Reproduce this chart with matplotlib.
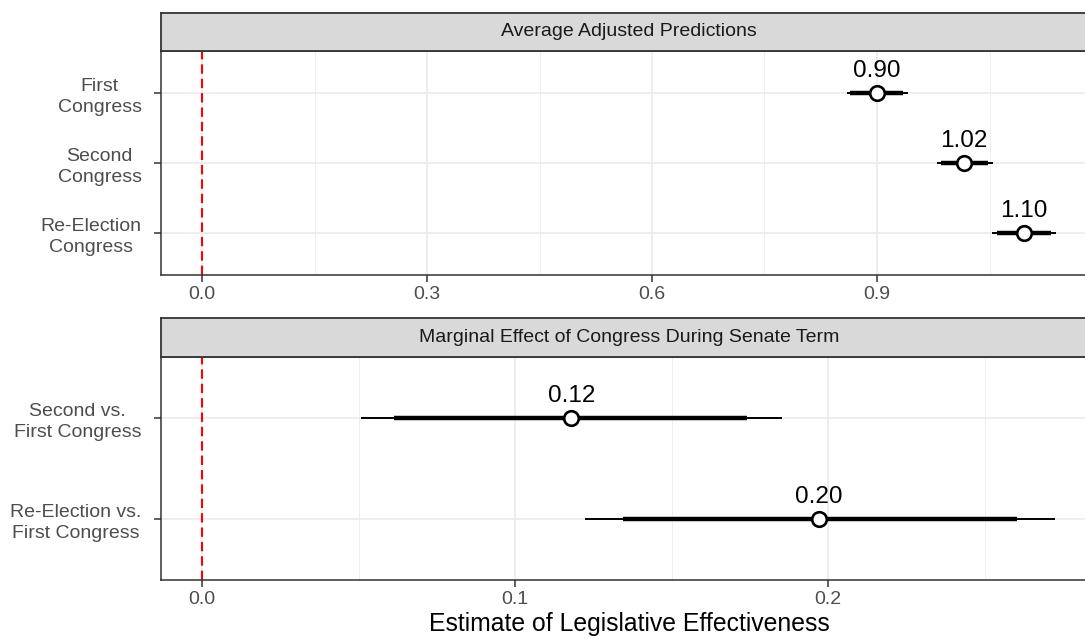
import matplotlib
matplotlib.use("Agg")
import matplotlib.pyplot as plt
from matplotlib.ticker import MultipleLocator

plt.rcParams['font.family'] = ['Liberation Sans', 'DejaVu Sans']

# Average adjusted predictions (point, 66% and 95% intervals)
pred_labels = ["First\nCongress", "Second\nCongress", "Re-Election\nCongress"]
pred_est = [0.900, 1.016, 1.096]
pred_lo66 = [0.864, 0.985, 1.060]
pred_hi66 = [0.934, 1.048, 1.132]
pred_lo95 = [0.860, 0.980, 1.053]
pred_hi95 = [0.941, 1.055, 1.139]

# Marginal effects relative to the first congress
eff_labels = ["Second vs.\nFirst Congress", "Re-Election vs.\nFirst Congress"]
eff_est = [0.118, 0.197]
eff_lo66 = [0.0613, 0.1345]
eff_hi66 = [0.1741, 0.2604]
eff_lo95 = [0.0508, 0.1224]
eff_hi95 = [0.1853, 0.2725]

W, H = 1085, 639
GRID = "#EBEBEB"
DARK = "#333333"


def px_box(left, top, right, bottom):
    return [left / W, (H - bottom) / H, (right - left) / W, (bottom - top) / H]


def add_strip(fig, top, bottom, title):
    sax = fig.add_axes(px_box(161, top, 1097, bottom))
    sax.set_facecolor("#D9D9D9")
    sax.set_xticks([])
    sax.set_yticks([])
    for s in sax.spines.values():
        s.set_color(DARK)
        s.set_linewidth(1.3)
    sax.text(0.5, 0.5, title, transform=sax.transAxes, ha="center", va="center",
             fontsize=14, color="#1A1A1A")


def draw_panel(ax, labels, est, lo66, hi66, lo95, hi95, xlim, major, minor, fmt):
    n = len(labels)
    ys = list(range(1, n + 1))
    ax.set_xlim(*xlim)
    ax.set_ylim(n + 0.6, 0.4)
    ax.xaxis.set_major_locator(MultipleLocator(major))
    ax.xaxis.set_minor_locator(MultipleLocator(minor))
    ax.xaxis.set_major_formatter(plt.FuncFormatter(lambda v, p: format(v, fmt)))
    ax.set_yticks(ys)
    ax.set_yticklabels(labels, multialignment="center", linespacing=1.3)
    ax.grid(True, which="major", color=GRID, lw=1.2, zorder=0)
    ax.grid(True, which="minor", axis="x", color=GRID, lw=0.6, zorder=0)
    ax.set_axisbelow(True)
    ax.tick_params(axis="both", which="major", length=5, width=1.1, color=DARK,
                   labelcolor="#4D4D4D", labelsize=14)
    ax.tick_params(axis="y", pad=9)
    ax.tick_params(axis="x", pad=3)
    ax.tick_params(which="minor", length=0)
    for s in ax.spines.values():
        s.set_color(DARK)
        s.set_linewidth(1.1)

    ax.axvline(0, color="red", ls=(0, (4.5, 2.4)), lw=1.5, zorder=2)
    for y, e, a, b, c, d in zip(ys, est, lo66, hi66, lo95, hi95):
        ax.plot([c, d], [y, y], color="black", lw=1.4, solid_capstyle="butt", zorder=3)
        ax.plot([a, b], [y, y], color="black", lw=3.2, solid_capstyle="butt", zorder=3)
        ax.plot(e, y, "o", ms=10.5, mfc="white", mec="black", mew=1.9, zorder=4)
        ax.annotate(f"{e:.2f}", (e, y), xytext=(0, 11.5), textcoords="offset points",
                    ha="center", va="baseline", fontsize=17.5, color="black")


fig = plt.figure(figsize=(W / 100, H / 100), dpi=100)

ax1 = fig.add_axes(px_box(161, 51, 1097, 275))
draw_panel(ax1, pred_labels, pred_est, pred_lo66, pred_hi66, pred_lo95, pred_hi95,
           ((161 - 202) / 750, (1097 - 202) / 750), 0.3, 0.15, ".1f")
add_strip(fig, 13, 51, "Average Adjusted Predictions")

ax2 = fig.add_axes(px_box(161, 357, 1097, 580))
draw_panel(ax2, eff_labels, eff_est, eff_lo66, eff_hi66, eff_lo95, eff_hi95,
           ((161 - 202) / 3130, (1097 - 202) / 3130), 0.1, 0.05, ".1f")
add_strip(fig, 318, 357, "Marginal Effect of Congress During Senate Term")

fig.text(629 / W, (H - 624) / H, "Estimate of Legislative Effectiveness",
         ha="center", va="center", fontsize=17.8, color="black")

fig.savefig("out.png", dpi=100)
